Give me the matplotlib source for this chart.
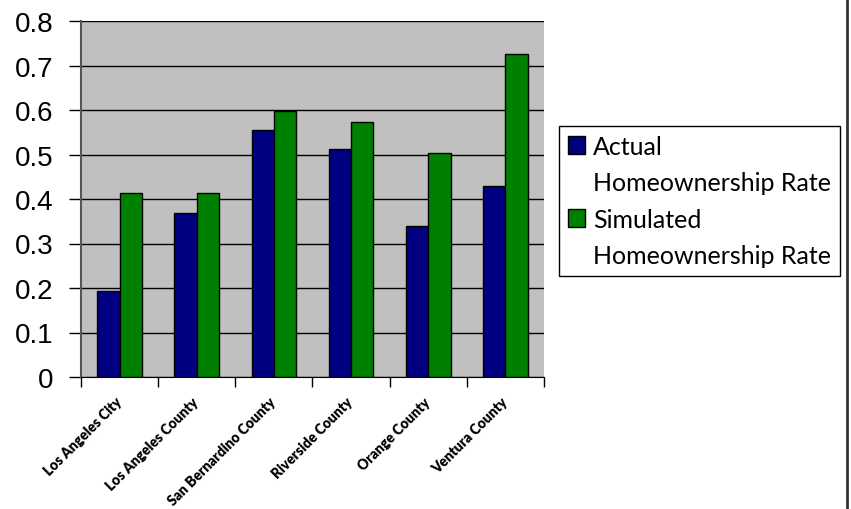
import numpy as np
import matplotlib.pyplot as plt
from matplotlib.patches import Patch
from matplotlib.lines import Line2D
from matplotlib.transforms import ScaledTranslation

regions = ['Los Angeles City', 'Los Angeles County', 'San Bernardino County',
           'Riverside County', 'Orange County', 'Ventura County']
actual = [0.193, 0.368, 0.555, 0.512, 0.339, 0.429]
simulated = [0.413, 0.413, 0.597, 0.573, 0.503, 0.726]
y_ticks = [0, 0.1, 0.2, 0.3, 0.4, 0.5, 0.6, 0.7, 0.8]

fig = plt.figure(figsize=(8.51, 5.10), dpi=100)
ax = fig.add_axes([81 / 851, 132 / 510, 463 / 851, 356 / 510])
ax.set_facecolor('#c0c0c0')

x = np.arange(len(regions))
w = 0.29
ax.bar(x - w / 2, actual, w, color='#000080', edgecolor='black', linewidth=1, zorder=3)
ax.bar(x + w / 2, simulated, w, color='#008000', edgecolor='black', linewidth=1, zorder=3)

ax.set_xlim(-0.5, len(regions) - 0.5)
ax.set_ylim(0, 0.8)
ax.set_yticks(y_ticks)
ax.set_yticklabels([f'{t:g}' for t in y_ticks], fontsize=20, family='Liberation Sans')
ax.yaxis.grid(True, color='black', linewidth=1, zorder=1)
ax.set_axisbelow(True)

# ticks on group boundaries, labels centred under the groups
ax.set_xticks(np.arange(len(regions) + 1) - 0.5)
ax.set_xticklabels([])
ax.set_xticks(x, minor=True)
ax.set_xticklabels(regions, minor=True, rotation=45, ha='right', va='center',
                   rotation_mode='anchor', fontsize=10, family='Lato', fontweight='heavy')
shift = ScaledTranslation(-6 / 100, 0, fig.dpi_scale_trans)
for lbl in ax.get_xticklabels(minor=True):
    lbl.set_transform(lbl.get_transform() + shift)
ax.tick_params(axis='x', which='minor', length=0, pad=16)
ax.tick_params(axis='x', which='major', length=7, width=1, color='black')
ax.tick_params(axis='y', length=9, width=1, color='black', pad=11)

for side in ['top', 'right']:
    ax.spines[side].set_visible(False)
ax.spines['left'].set_color('#555555')
ax.spines['left'].set_linewidth(1.5)
ax.spines['bottom'].set_color('black')

handles = [Patch(facecolor='#000080', edgecolor='black'),
           Patch(facecolor='none', edgecolor='none'),
           Patch(facecolor='#008000', edgecolor='black'),
           Patch(facecolor='none', edgecolor='none')]
labels = ['Actual', 'Homeownership Rate', 'Simulated', 'Homeownership Rate']
leg = fig.legend(handles, labels, loc='upper left', bbox_to_anchor=(559 / 851, 383 / 510),
                 frameon=True, fancybox=False, edgecolor='black', framealpha=1,
                 prop={'family': 'Lato', 'size': 18}, handlelength=0.7, handleheight=0.7,
                 handletextpad=0.3, labelspacing=0.54, borderpad=0.35, borderaxespad=0)
leg.get_frame().set_linewidth(1)

fig.add_artist(Line2D([846.5 / 851, 846.5 / 851], [0, 1], color='#333333', linewidth=2))

fig.savefig('out.png', dpi=100)
